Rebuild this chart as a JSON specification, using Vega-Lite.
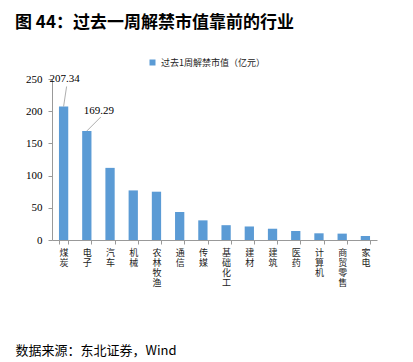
{
  "$schema": "https://vega.github.io/schema/vega-lite/v6.json",
  "width": 325,
  "height": 161,
  "autosize": {"type": "none"},
  "padding": {"left": 52, "top": 79, "right": 36, "bottom": 122},
  "background": "white",
  "title": {
    "text": "图 44：过去一周解禁市值靠前的行业",
    "anchor": "start",
    "frame": "group",
    "dx": -37,
    "font": "Noto Sans CJK SC",
    "fontSize": 17,
    "fontWeight": "bold",
    "color": "#000000",
    "offset": 26
  },
  "data": {
    "values": [
      {"industry": "煤炭", "value": 207.34},
      {"industry": "电子", "value": 169.29},
      {"industry": "汽车", "value": 112},
      {"industry": "机械", "value": 77},
      {"industry": "农林牧渔", "value": 75},
      {"industry": "通信", "value": 43.5},
      {"industry": "传媒", "value": 30.5},
      {"industry": "基础化工", "value": 23},
      {"industry": "建材", "value": 21},
      {"industry": "建筑", "value": 17.5},
      {"industry": "医药", "value": 14},
      {"industry": "计算机", "value": 10.4},
      {"industry": "商贸零售", "value": 9.9},
      {"industry": "家电", "value": 6.2}
    ]
  },
  "encoding": {
    "x": {
      "field": "industry",
      "type": "nominal",
      "sort": null,
      "scale": {"paddingInner": 0.6, "paddingOuter": 0.3},
      "axis": {
        "title": "数据来源：东北证券，Wind",
        "titleAnchor": "start",
        "titleAlign": "left",
        "titleX": -37,
        "titleY": 110,
        "titleFont": "Noto Sans CJK SC",
        "titleFontSize": 13,
        "titleFontWeight": "normal",
        "titleColor": "#000000",
        "titleBaseline": "middle",
        "labelExpr": "split(datum.label, '')",
        "labelAngle": 0,
        "labelFont": "Noto Sans CJK SC",
        "labelFontSize": 9,
        "labelLineHeight": 10,
        "labelColor": "#222222",
        "labelBaseline": "top",
        "labelPadding": 4,
        "labelOverlap": false,
        "tickBand": "extent",
        "tickSize": 4,
        "tickColor": "#999999",
        "domainColor": "#999999"
      }
    },
    "y": {
      "field": "value",
      "type": "quantitative",
      "scale": {"domain": [0, 250]},
      "axis": {
        "title": null,
        "values": [0, 50, 100, 150, 200, 250],
        "labelOverlap": false,
        "grid": false,
        "labelFont": "Liberation Serif",
        "labelFontSize": 11,
        "labelColor": "#000000",
        "tickSize": 4,
        "tickColor": "#999999",
        "domainColor": "#999999",
        "labelPadding": 6
      }
    }
  },
  "layer": [
    {
      "mark": {"type": "bar"},
      "encoding": {
        "color": {
          "datum": "过去1周解禁市值（亿元）",
          "type": "nominal",
          "scale": {"range": ["#5B9BD5"]},
          "legend": {
            "title": null,
            "orient": "none",
            "legendX": 96,
            "legendY": -21,
            "direction": "horizontal",
            "symbolType": "square",
            "symbolSize": 36,
            "labelFont": "Noto Sans CJK SC",
            "labelFontSize": 9,
            "labelColor": "#222222"
          }
        }
      }
    },
    {
      "transform": [{"filter": "datum.industry === '煤炭'"}],
      "mark": {"type": "rule", "color": "#999999", "strokeWidth": 0.8, "x2Offset": 3, "y2Offset": -20},
      "encoding": {
        "x2": {"field": "industry"},
        "y2": {"field": "value"}
      }
    },
    {
      "transform": [{"filter": "datum.industry === '电子'"}],
      "mark": {"type": "rule", "color": "#999999", "strokeWidth": 0.8, "x2Offset": 14, "y2Offset": -14},
      "encoding": {
        "x2": {"field": "industry"},
        "y2": {"field": "value"}
      }
    },
    {
      "transform": [{"filter": "datum.industry === '煤炭'"}],
      "mark": {"type": "text", "font": "Liberation Serif", "fontSize": 11, "color": "#000000", "dx": 1, "dy": -27},
      "encoding": {
        "text": {"field": "value", "type": "quantitative", "format": ".2f"}
      }
    },
    {
      "transform": [{"filter": "datum.industry === '电子'"}],
      "mark": {"type": "text", "font": "Liberation Serif", "fontSize": 11, "color": "#000000", "dx": 12, "dy": -20},
      "encoding": {
        "text": {"field": "value", "type": "quantitative", "format": ".2f"}
      }
    }
  ],
  "config": {
    "view": {"stroke": null},
    "axis": {"domainWidth": 1}
  }
}
